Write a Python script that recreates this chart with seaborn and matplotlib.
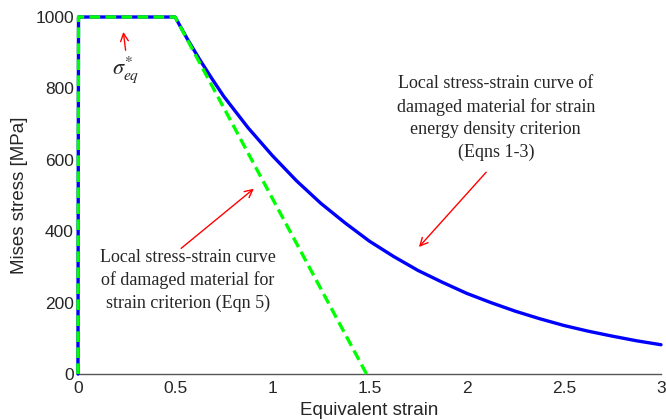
import matplotlib
matplotlib.use("Agg")
import matplotlib.pyplot as plt
import seaborn as sns
import pandas as pd

# Data
sed_strain = [0.0, 0.003, 0.5, 0.5625, 0.625, 0.6875, 0.75, 0.875, 1.0, 1.125, 1.25, 1.375,
              1.5, 1.625, 1.75, 1.875, 2.0, 2.125, 2.25, 2.375, 2.5, 2.625, 2.75, 2.875, 3.0]
sed_stress = [0, 1000, 1000, 939, 882, 829, 778, 690, 612, 541, 478, 423,
              372, 329, 290, 257, 226, 200, 176, 155, 136, 120, 106, 93, 82]
str_strain = [0.0, 0.003, 0.5, 1.485]
str_stress = [0, 1000, 1000, 0]
x_ticks = [0, 0.5, 1, 1.5, 2, 2.5, 3]
x_ticklabels = ["0", "0.5", "1", "1.5", "2", "2.5", "3"]
y_ticks = [0, 200, 400, 600, 800, 1000]

sns.set_style("white")
plt.rcParams['font.family'] = ['Liberation Sans', 'DejaVu Sans']
plt.rcParams['mathtext.fontset'] = 'stix'

fig = plt.figure(figsize=(6.66, 4.2), dpi=100)
ax = fig.add_axes([0.117, 0.1095, 0.8755, 0.85])

df_sed = pd.DataFrame({"strain": sed_strain, "stress": sed_stress})
df_str = pd.DataFrame({"strain": str_strain, "stress": str_stress})

sns.lineplot(data=df_sed, x="strain", y="stress", sort=False, estimator=None,
             color=(0, 0, 1), lw=2.4, ax=ax, clip_on=False, zorder=3)
sns.lineplot(data=df_str, x="strain", y="stress", sort=False, estimator=None,
             color=(0, 1, 0), lw=2.4, ax=ax, clip_on=False, dashes=False, zorder=4)
ax.lines[-1].set_linestyle((0, (3.2, 1.6)))

ax.set_xlim(0, 3)
ax.set_ylim(0, 1000)
ax.set_xticks(x_ticks)
ax.set_xticklabels(x_ticklabels)
ax.set_yticks(y_ticks)
ax.tick_params(direction='in', length=4, color='#555555', labelsize=12.5)
ax.tick_params(axis='x', pad=5)
ax.tick_params(axis='y', pad=3)
for s in ['top', 'right']:
    ax.spines[s].set_visible(False)
for s in ['left', 'bottom']:
    ax.spines[s].set_color('#555555')
    ax.spines[s].set_linewidth(1.0)
ax.set_xlabel("Equivalent strain", fontsize=13.5, labelpad=4)
ax.set_ylabel("Mises stress [MPa]", fontsize=13.5, labelpad=5)

serif = ['Liberation Serif', 'DejaVu Serif']
arrow = dict(arrowstyle='->', color='red', lw=1.0, mutation_scale=14)

ax.annotate('', xy=(0.232, 966), xytext=(0.247, 899), arrowprops=arrow)
ax.text(0.245, 852, r'$\sigma^{*}_{eq}$', fontsize=16, ha='center', va='center')

ax.annotate('', xy=(0.916, 524), xytext=(0.52, 347), arrowprops=arrow)
ax.text(0.566, 262, "Local stress-strain curve\nof damaged material for\nstrain criterion (Eqn 5)",
        family=serif, fontsize=13, ha='center', va='center', linespacing=1.4)

ax.annotate('', xy=(1.745, 350), xytext=(2.11, 571), arrowprops=arrow)
ax.text(2.15, 717, "Local stress-strain curve of\ndamaged material for strain\nenergy density criterion\n(Eqns 1-3)",
        family=serif, fontsize=13, ha='center', va='center', linespacing=1.4)

fig.savefig("out.png", dpi=100)
